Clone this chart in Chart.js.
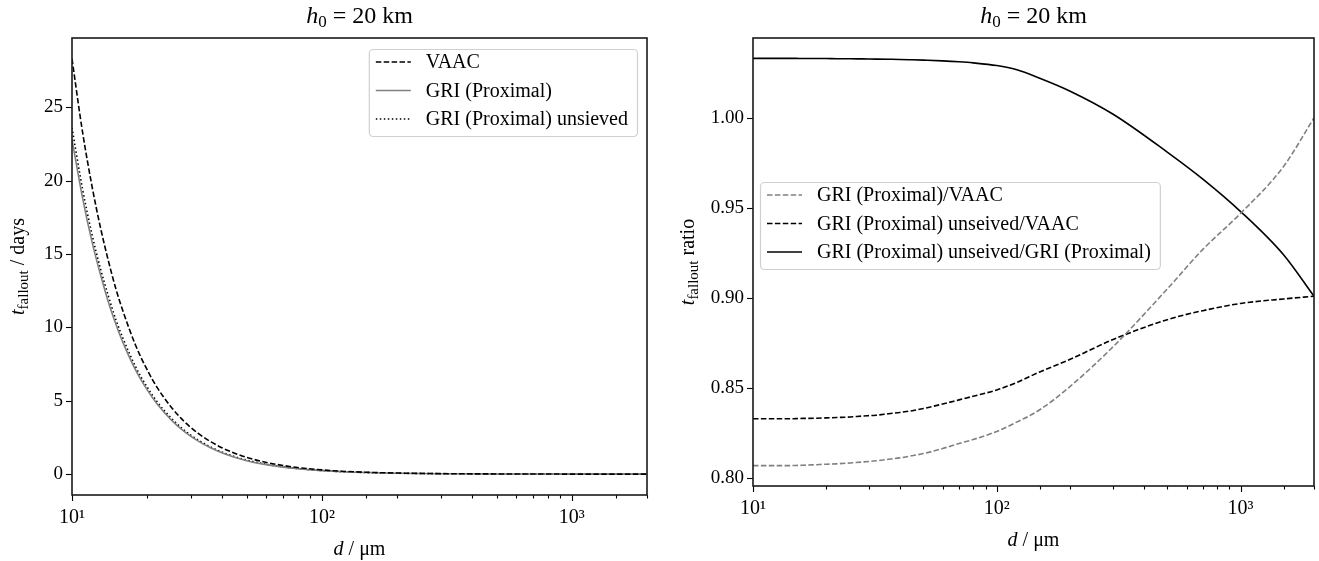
<!DOCTYPE html>
<html><head><meta charset="utf-8">
<script src="https://cdn.jsdelivr.net/npm/chart.js@4.4.0/dist/chart.umd.min.js"></script>
<style>
html,body{margin:0;padding:0;background:#fff;}
#wrap{position:relative;width:1319px;height:561px;overflow:hidden;}
.box{position:absolute;top:0;height:561px;}
</style></head><body>
<div id="wrap">
<div class="box" style="left:0;width:660px"><canvas id="c1" width="660" height="561"></canvas></div>
<div class="box" style="left:660px;width:659px"><canvas id="c2" width="659" height="561"></canvas></div>
</div>
<script>
// ---- data ----
const diameters = [10,11,12,13,14,15,16,18,20,22,25,28,32,36,40,45,50,60,70,80,100,120,150,200,300,500,700,1000,1500,2000];
const vaacDays = [28.3,23.4,19.7,16.8,14.5,12.6,11.1,8.75,7.1,5.86,4.55,3.62,2.78,2.2,1.78,1.41,1.14,0.8,0.59,0.45,0.29,0.2,0.13,0.075,0.035,0.015,0.009,0.005,0.003,0.002];
const griDays = [22.8,18.9,15.9,13.6,11.7,10.2,8.96,7.07,5.74,4.74,3.68,2.93,2.25,1.78,1.44,1.14,0.92,0.65,0.48,0.37,0.24,0.166,0.11,0.064,0.031,0.014,0.0085,0.0047,0.0029,0.002];
const griUnsievedDays = [23.6,19.5,16.4,14.0,12.1,10.5,9.25,7.29,5.92,4.89,3.80,3.02,2.32,1.84,1.49,1.18,0.96,0.67,0.50,0.38,0.245,0.170,0.112,0.065,0.031,0.0133,0.008,0.0045,0.0027,0.0018];
const griOverVaac = [0.807,0.807,0.807,0.807,0.807,0.8071,0.8072,0.8075,0.8078,0.808,0.8085,0.809,0.8097,0.8105,0.8113,0.8125,0.8137,0.8165,0.8193,0.8215,0.826,0.831,0.838,0.851,0.873,0.905,0.927,0.947,0.973,1.000];
const unsievedOverVaac = [0.833,0.833,0.833,0.833,0.833,0.8331,0.8332,0.8333,0.8335,0.8337,0.834,0.8345,0.835,0.8358,0.8365,0.8375,0.8387,0.8412,0.8435,0.8455,0.849,0.853,0.859,0.866,0.877,0.888,0.893,0.897,0.8995,0.901];
const unsievedOverGri = [1.033,1.033,1.033,1.033,1.033,1.033,1.0329,1.0329,1.0329,1.0328,1.0328,1.0327,1.0326,1.0325,1.0324,1.0322,1.032,1.0316,1.0311,1.0305,1.029,1.0268,1.022,1.0148,1.002,0.981,0.966,0.948,0.924,0.901];
const leftYTicks = [0,5,10,15,20,25];
const rightYTicks = [0.80,0.85,0.90,0.95,1.00];
const leftLabels = ['VAAC','GRI (Proximal)','GRI (Proximal) unsieved'];
const rightLabels = ['GRI (Proximal)/VAAC','GRI (Proximal) unseived/VAAC','GRI (Proximal) unseived/GRI (Proximal)'];

const SERIF = '"Liberation Serif", "DejaVu Serif", serif';
const SUP = {'0':'\u2070','1':'\u00b9','2':'\u00b2','3':'\u00b3'};

function pts(ys){ return diameters.map((d,i)=>({x:d,y:ys[i]})); }
function isPow10(v){ const l=Math.log10(v); return Math.abs(l-Math.round(l))<1e-9; }

function drawRuns(ctx, runs, x, y, align){
  let w=0;
  runs.forEach(r=>{ctx.font=r.font; r.w=ctx.measureText(r.text).width; w+=r.w;});
  let sx = align==='center' ? x-w/2 : x;
  ctx.textAlign='left'; ctx.textBaseline='alphabetic';
  runs.forEach(r=>{ctx.font=r.font; ctx.fillText(r.text, sx, y+(r.dy||0)); sx+=r.w;});
}

function makeDecor(cfg){
  return {
    id:'decor',
    afterDatasetsDraw(chart){
      const {ctx, chartArea:a, scales:{x,y}} = chart;
      ctx.save();
      // ticks
      ctx.strokeStyle='#000'; ctx.lineWidth=1.1;
      x.ticks.forEach(t=>{
        const px = Math.round(x.getPixelForValue(t.value))+0.5;
        const len = isPow10(t.value)?6:3.5;
        ctx.beginPath(); ctx.moveTo(px,a.bottom); ctx.lineTo(px,a.bottom+len); ctx.stroke();
      });
      y.ticks.forEach(t=>{
        const py = Math.round(y.getPixelForValue(t.value))+0.5;
        ctx.beginPath(); ctx.moveTo(a.left,py); ctx.lineTo(a.left-6,py); ctx.stroke();
      });
      // frame
      ctx.strokeStyle='#1a1a1a'; ctx.lineWidth=1.6;
      ctx.strokeRect(a.left, a.top, a.right-a.left, a.bottom-a.top);
      // legend
      const L = cfg.legend;
      ctx.font='20px '+SERIF;
      let tw = 0;
      chart.data.datasets.forEach(ds=>{ tw = Math.max(tw, ctx.measureText(ds.label).width); });
      const bw = tw + 66, bh = 87;
      const bx = L.right!==undefined ? a.right - L.right - bw : a.left + L.left;
      const by = a.top + L.top;
      ctx.fillStyle='rgba(255,255,255,0.85)'; ctx.strokeStyle='#d0d0d0'; ctx.lineWidth=1.2;
      ctx.beginPath(); ctx.roundRect(bx+0.5, by+0.5, bw, bh, 4); ctx.fill(); ctx.stroke();
      chart.data.datasets.forEach((ds,i)=>{
        const ry = by + 13 + i*28.5;
        ctx.strokeStyle=ds.borderColor; ctx.lineWidth=ds.borderWidth; ctx.setLineDash(ds.borderDash||[]);
        ctx.beginPath(); ctx.moveTo(bx+7, ry); ctx.lineTo(bx+42, ry); ctx.stroke();
        ctx.setLineDash([]);
        ctx.fillStyle='#000'; ctx.font='20px '+SERIF; ctx.textBaseline='middle'; ctx.textAlign='left';
        ctx.fillText(ds.label, bx+57, ry+1);
      });
      // title
      ctx.fillStyle='#000';
      const cx = (a.left+a.right)/2;
      drawRuns(ctx,[
        {text:'h', font:'italic 24px '+SERIF},
        {text:'0', font:'17px '+SERIF, dy:4},
        {text:' = 20 km', font:'24px '+SERIF}], cx, 23, 'center');
      // x label
      drawRuns(ctx,[
        {text:'d', font:'italic 20px '+SERIF},
        {text:' / \u03bcm', font:'20px '+SERIF}], cx, cfg.xlabelY, 'center');
      // y label
      ctx.save();
      ctx.translate(cfg.ylabelX, (a.top+a.bottom)/2);
      ctx.rotate(-Math.PI/2);
      drawRuns(ctx,[
        {text:'t', font:'italic 20px '+SERIF},
        {text:'fallout', font:'15px '+SERIF, dy:4},
        {text:cfg.ylabelTail, font:'20px '+SERIF}], 0, 0, 'center');
      ctx.restore();
      ctx.restore();
    }
  };
}

function makeChart(id, datasets, yMin, yMax, yTicks, yFmt, yAxisW, padRight, xAxisH, decor){
  return new Chart(document.getElementById(id), {
    type:'line',
    data:{datasets},
    options:{
      responsive:false, animation:false,
      layout:{padding:{top:38,right:padRight,left:0,bottom:0}},
      plugins:{legend:{display:false}, tooltip:{enabled:false}},
      elements:{point:{radius:0}, line:{cubicInterpolationMode:'monotone', fill:false}},
      scales:{
        x:{type:'logarithmic', min:10, max:2000,
          grid:{drawOnChartArea:false, drawTicks:true, tickLength:6, color:'rgba(0,0,0,0)'},
          border:{display:false},
          ticks:{autoSkip:false, maxRotation:0, padding:5, color:'#000', font:{family:SERIF,size:20},
            callback:(v)=> isPow10(v) ? '10'+SUP[String(Math.round(Math.log10(v)))] : ''},
          afterFit:(s)=>{s.height=xAxisH;}
        },
        y:{type:'linear', min:yMin, max:yMax,
          grid:{drawOnChartArea:false, drawTicks:true, tickLength:6, color:'rgba(0,0,0,0)'},
          border:{display:false},
          afterBuildTicks:(s)=>{ s.ticks = yTicks.map(v=>({value:v})); },
          ticks:{padding:3, color:'#000', font:{family:SERIF,size:19}, callback:yFmt},
          afterFit:(s)=>{s.width=yAxisW;}
        }
      }
    },
    plugins:[makeDecor(decor)]
  });
}

makeChart('c1', [
  {label:leftLabels[0], data:pts(vaacDays), borderColor:'#000', borderWidth:1.6, borderDash:[5.5,2.4]},
  {label:leftLabels[1], data:pts(griDays), borderColor:'#808080', borderWidth:1.6},
  {label:leftLabels[2], data:pts(griUnsievedDays), borderColor:'#000', borderWidth:1.6, borderDash:[1.5,2.5]}
], -1.42, 29.72, leftYTicks, (v)=>String(v), 72, 13, 66,
  {legend:{right:10, top:11}, ylabelX:24, ylabelTail:' / days', xlabelY:555});

makeChart('c2', [
  {label:rightLabels[0], data:pts(griOverVaac), borderColor:'#808080', borderWidth:1.6, borderDash:[5.5,2.4]},
  {label:rightLabels[1], data:pts(unsievedOverVaac), borderColor:'#000', borderWidth:1.6, borderDash:[5.5,2.4]},
  {label:rightLabels[2], data:pts(unsievedOverGri), borderColor:'#000', borderWidth:1.6}
], 0.7957, 1.0443, rightYTicks, (v)=>Number(v).toFixed(2), 93, 3, 75,
  {legend:{left:7, top:144}, ylabelX:34, ylabelTail:' ratio', xlabelY:546});
</script>
</body></html>
